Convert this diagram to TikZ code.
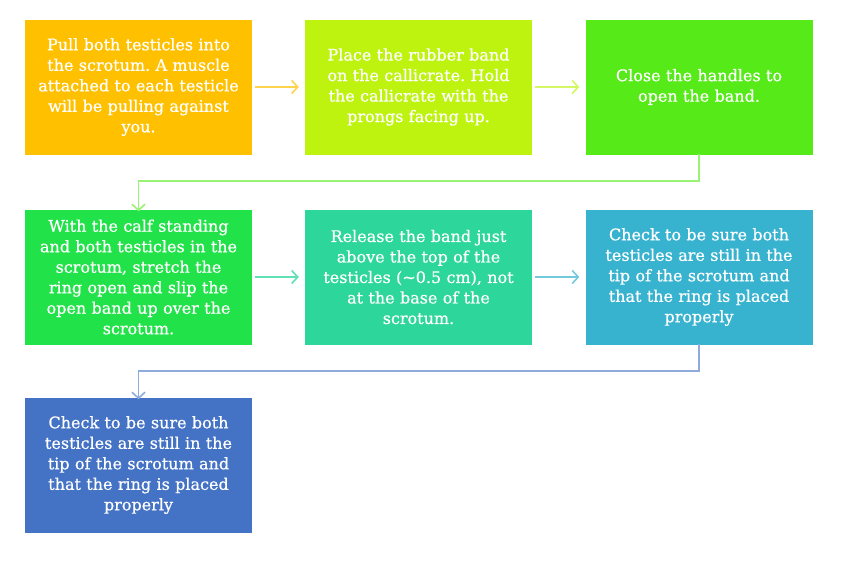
\documentclass[tikz,border=0pt]{standalone}
\usepackage{fontspec}
\setmainfont{DejaVu Serif}[FakeBold=0.6]
\usetikzlibrary{arrows.meta}
\definecolor{stepA}{HTML}{FFC000}
\definecolor{stepB}{HTML}{BDF30F}
\definecolor{stepC}{HTML}{56EA18}
\definecolor{stepD}{HTML}{22E24A}
\definecolor{stepE}{HTML}{2DD69B}
\definecolor{stepF}{HTML}{38B3CF}
\definecolor{stepG}{HTML}{4472C4}
\begin{document}
\frenchspacing
\begin{tikzpicture}[x=1pt,y=-1pt,
    box/.style={rectangle, minimum width=227pt, minimum height=135pt,
      text width=222pt, align=center, text=white, inner sep=0pt,
      font=\fontsize{16}{20.5}\selectfont},
    link/.style={line width=1.6pt, -{Straight Barb[length=6pt,width=13pt]}}]
  \useasboundingbox (0,0) rectangle (843,560);
  \draw
    (138.5,87) node[box,fill=stepA] (1){Pull both testicles into\\the scrotum. A muscle\\attached to each testicle\\will be pulling against\\you.}
    (418.5,87) node[box,fill=stepB] (2){Place the rubber band\\on the callicrate. Hold\\the callicrate with the\\prongs facing up.}
    (699,87) node[box,fill=stepC] (3){Close the handles to\\open the band.}
    (138.5,277) node[box,fill=stepD] (4){With the calf standing\\and both testicles in the\\scrotum, stretch the\\ring open and slip the\\open band up over the\\scrotum.}
    (418.5,277) node[box,fill=stepE] (5){Release the band just\\above the top of the\\testicles (\textasciitilde0.5 cm), not\\at the base of the\\scrotum.}
    (699,277) node[box,fill=stepF] (6){Check to be sure both\\testicles are still in the\\tip of the scrotum and\\that the ring is placed\\properly}
    (138.5,465) node[box,fill=stepG] (7){Check to be sure both\\testicles are still in the\\tip of the scrotum and\\that the ring is placed\\properly};
  \begin{scope}[link]
    \draw[color=stepA!70] ([xshift=3pt]1.east) to ([xshift=-6pt]2.west);
    \draw[color=stepB!65] ([xshift=3pt]2.east) to ([xshift=-6pt]3.west);
    \draw[color=stepC!60] ([yshift=1pt]3.south) |- (138.5,181) -- ([yshift=-2pt]4.north);
    \draw[color=stepE!75] ([xshift=3pt]4.east) to ([xshift=-6pt]5.west);
    \draw[color=stepF!70] ([xshift=3pt]5.east) to ([xshift=-6pt]6.west);
    \draw[color=stepG!60] ([yshift=1pt]6.south) |- (138.5,371) -- ([yshift=-2pt]7.north);
  \end{scope}
\end{tikzpicture}
\end{document}
